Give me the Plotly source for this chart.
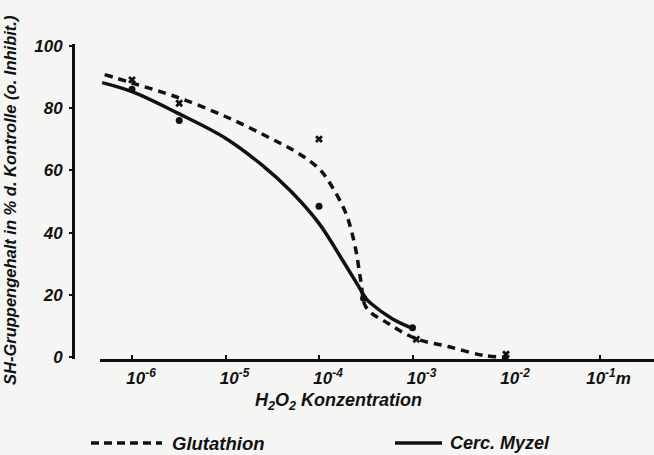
import plotly.graph_objects as go

# ---- data ----
# smooth curves (concentration in mol/l, SH content in % of control)
glut_curve_x = [5.1e-7, 1e-6, 3e-6, 1.1e-5, 3.5e-5, 6e-5, 1e-4, 1.3e-4, 1.95e-4, 2.45e-4,
                2.8e-4, 3.2e-4, 5.5e-4, 1.07e-3, 2.4e-3, 5.9e-3, 1.07e-2]
glut_curve_y = [90.7, 88, 83.5, 76.7, 69.3, 65.5, 60.5, 56, 46, 35.1,
                24.6, 16, 10.9, 6.1, 3.5, 0.6, 0]

cerc_curve_x = [4.8e-7, 1e-6, 3e-6, 1e-5, 2.5e-5, 5e-5, 1e-4, 1.8e-4, 2.7e-4,
                3.2e-4, 3.6e-4, 6e-4, 1e-3]
cerc_curve_y = [88.1, 85.2, 78.5, 70.3, 61.5, 53.3, 43, 31, 22.4,
                18.8, 17.3, 12.5, 9.3]

# measured points
glut_pts_x = [1e-6, 3.2e-6, 1e-4, 1.1e-3, 1e-2]
glut_pts_y = [89, 81.5, 70, 5.8, 1]
cerc_pts_x = [1e-6, 3.2e-6, 1e-4, 3e-4, 1e-3]
cerc_pts_y = [86, 76, 48.5, 19, 9.5]

x_tickvals = [1e-6, 1e-5, 1e-4, 1e-3, 1e-2, 1e-1]
x_ticktext = ["10<sup>-6</sup>", "10<sup>-5</sup>", "10<sup>-4</sup>",
              "10<sup>-3</sup>", "10<sup>-2</sup>", "10<sup>-1</sup>m"]
y_tickvals = [0, 20, 40, 60, 80, 100]
y_ticktext = ["0", "20", "40", "60", "80", "100"]

series_names = ["Glutathion", "Cerc. Myzel"]
x_title = "H<sub>2</sub>O<sub>2</sub> Konzentration"
y_title = "SH-Gruppengehalt in % d. Kontrolle (o. Inhibit.)"

# ---- styling ----
INK = "#111111"
FONT = dict(family="Liberation Sans, Arial, sans-serif", color=INK,
            weight="bold", style="italic")

fig = go.Figure()
fig.add_trace(go.Scatter(x=glut_curve_x, y=glut_curve_y, mode="lines",
                         line=dict(color=INK, width=3.5, dash="8px,6px",
                                   shape="spline", smoothing=1.0),
                         cliponaxis=False, showlegend=False))
fig.add_trace(go.Scatter(x=cerc_curve_x, y=cerc_curve_y, mode="lines",
                         line=dict(color=INK, width=3.5, shape="spline", smoothing=1.0),
                         cliponaxis=False, showlegend=False))
fig.add_trace(go.Scatter(x=glut_pts_x, y=glut_pts_y, mode="markers",
                         marker=dict(symbol="x", size=7, color=INK),
                         cliponaxis=False, showlegend=False))
fig.add_trace(go.Scatter(x=cerc_pts_x, y=cerc_pts_y, mode="markers",
                         marker=dict(symbol="circle", size=7, color=INK),
                         cliponaxis=False, showlegend=False))

W, H = 654, 455
L, R, T, B = 73, 0, 44, 96
pw, ph = W - L - R, H - T - B
x_left_px = 100
px_per_dec = 93.5
tick0_px = 132
left_log = -6 - (tick0_px - x_left_px) / px_per_dec
right_log = left_log + (W - x_left_px) / px_per_dec

fig.update_layout(
    width=W, height=H,
    margin=dict(l=L, r=R, t=T, b=B, pad=0),
    paper_bgcolor="#f5f5f3", plot_bgcolor="rgba(0,0,0,0)",
    font=dict(size=16, **FONT),
    showlegend=False,
    xaxis=dict(type="log", range=[left_log, right_log],
               domain=[(x_left_px - L) / pw, 1],
               showline=True, linewidth=3, linecolor=INK,
               showgrid=False, zeroline=False,
               ticks="inside", ticklen=4, tickwidth=2, tickcolor=INK,
               tickvals=x_tickvals, ticktext=x_ticktext,
               ticklabelshift=9, ticklabelstandoff=2,
               tickfont=dict(size=17, **FONT), anchor="y"),
    yaxis=dict(range=[-0.5, 100.5], anchor="free", position=0,
               showline=True, linewidth=3, linecolor=INK,
               showgrid=False, zeroline=False,
               ticks="outside", ticklen=3, tickwidth=2, tickcolor=INK,
               tickvals=y_tickvals, ticktext=y_ticktext,
               ticklabelstandoff=3,
               tickfont=dict(size=17, **FONT)),
)

def py(p):
    return (H - B - p) / ph

def pxx(p):
    return (p - L) / pw

annotations = [
    dict(text=x_title, xref="paper", yref="paper", x=pxx(338), y=py(401),
         xanchor="center", yanchor="middle", showarrow=False,
         font=dict(size=18, **FONT)),
    dict(text=y_title, xref="paper", yref="paper", x=0, xshift=-63, y=py(200),
         xanchor="center", yanchor="middle", textangle=-90, showarrow=False,
         font=dict(size=16.5, **FONT)),
    dict(text=series_names[0], xref="paper", yref="paper", x=pxx(170), y=py(443),
         xanchor="left", yanchor="middle", showarrow=False,
         font=dict(size=18.5, **FONT)),
    dict(text=series_names[1], xref="paper", yref="paper", x=pxx(448), y=py(443),
         xanchor="left", yanchor="middle", showarrow=False,
         font=dict(size=18, **FONT)),
]
shapes = [
    dict(type="line", xref="paper", yref="paper", x0=pxx(91), x1=pxx(162),
         y0=py(443), y1=py(443), line=dict(color=INK, width=3.5, dash="8px,5px")),
    dict(type="line", xref="paper", yref="paper", x0=pxx(395), x1=pxx(442),
         y0=py(443), y1=py(443), line=dict(color=INK, width=3.5)),
]
fig.update_layout(annotations=annotations, shapes=shapes)

fig.write_html("out.html")
